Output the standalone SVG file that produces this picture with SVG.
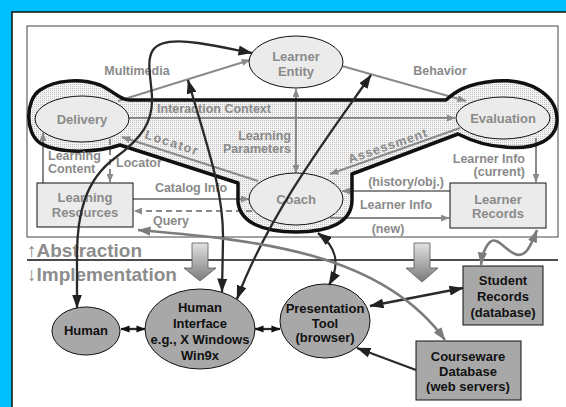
<svg xmlns="http://www.w3.org/2000/svg" width="566" height="407" viewBox="0 0 566 407">
<defs>
<pattern id="stip" width="2" height="2" patternUnits="userSpaceOnUse">
<rect width="2" height="2" fill="#f4f4f4"/><rect width="1" height="1" fill="#c0c0c0"/>
</pattern>
<linearGradient id="blk" x1="0" y1="0" x2="0" y2="1">
<stop offset="0" stop-color="#e2e2e2"/><stop offset="1" stop-color="#7a7a7a"/>
</linearGradient>
<marker id="g" viewBox="0 0 10 8" refX="9.5" refY="4" markerWidth="9" markerHeight="7" orient="auto-start-reverse" markerUnits="userSpaceOnUse"><path d="M0,0L10,4L0,8z" fill="#8a8a8a"/></marker>
<marker id="gl" viewBox="0 0 14 10" refX="13.5" refY="5" markerWidth="13" markerHeight="10" orient="auto-start-reverse" markerUnits="userSpaceOnUse"><path d="M0,0L14,5L0,10z" fill="#7c7c7c"/></marker>
<marker id="b" viewBox="0 0 14 10" refX="13.5" refY="5" markerWidth="14" markerHeight="10" orient="auto-start-reverse" markerUnits="userSpaceOnUse"><path d="M0,0L14,5L0,10z" fill="#222"/></marker>
<marker id="bs" viewBox="0 0 10 8" refX="9.5" refY="4" markerWidth="9" markerHeight="8" orient="auto-start-reverse" markerUnits="userSpaceOnUse"><path d="M0,0L10,4L0,8z" fill="#111"/></marker>
</defs>
<style>
.lbl{font-family:"Liberation Sans",Arial,sans-serif;font-weight:bold;font-size:12.5px;fill:#8a8a8a}
.nl{font-family:"Liberation Sans",Arial,sans-serif;font-weight:bold;font-size:13px;fill:#8a8a8a;text-anchor:middle}
.bl{font-family:"Liberation Sans",Arial,sans-serif;font-weight:bold;font-size:13px;fill:#111;text-anchor:middle}
.big{font-family:"Liberation Sans",Arial,sans-serif;font-weight:bold;font-size:19px;fill:#8c8c8c}
.tn{fill:#ebebeb;stroke:#111;stroke-width:1}
.bn{fill:#a8a8a8;stroke:#111;stroke-width:1}
.gc{fill:none;stroke:#8a8a8a;stroke-width:2}
.gd{fill:none;stroke:#8a8a8a;stroke-width:2;stroke-dasharray:6,4}
.bc{fill:none;stroke:#2a2a2a;stroke-width:2.3}
.gcl{fill:none;stroke:#7c7c7c;stroke-width:2.6}
.ba{fill:url(#blk);stroke:#555;stroke-width:0.8}
</style>
<rect x="0" y="0" width="566" height="407" fill="#00BFFF"/>
<rect x="12" y="12" width="570" height="410" fill="#fff" stroke="#111" stroke-width="1.5"/>
<rect x="27" y="26" width="531" height="211" fill="#fff" stroke="#444" stroke-width="1"/>

<g id="system-boundary">
<path d="M130,100 L446,100 C455,92 465,84 495,81 C530,78 556,95 557,118 C558,140 535,150 505,147 C485,146 470,140 458,134 L352,174 L352,200 C352,222 330,232 296,232 C262,232 240,222 238,202 L238,183 L120,145 C100,152 60,155 40,143 C25,133 25,100 40,90 C55,80 80,78 100,85 C115,92 120,100 130,100 Z" fill="url(#stip)" stroke="none"/>
</g>

<line x1="27" y1="260" x2="558" y2="260" stroke="#111" stroke-width="1.5"/>
<text class="big" x="27" y="257">↑Abstraction</text>
<text class="big" x="27" y="281">↓Implementation</text>

<g id="connectors">
<path class="gc" d="M118,101 L250,60" marker-end="url(#g)"/>
<path class="gc" d="M342,66 L466,101" marker-end="url(#g)"/>
<path class="gc" d="M129,118 L455,118" marker-end="url(#g)"/>
<path class="gc" d="M296,173 L296,89" marker-start="url(#g)" marker-end="url(#g)"/>
<path class="gc" d="M258,181 L122,137" marker-end="url(#g)"/>
<path class="gc" d="M460,128 L330,174" marker-end="url(#g)"/>
<path class="gc" d="M43,183 L43,133" marker-end="url(#g)"/>
<path class="gd" d="M110,139 L110,182" marker-end="url(#g)"/>
<path class="gc" d="M133,199 L249,199" marker-end="url(#g)"/>
<path class="gd" d="M252,211 L134,211" marker-end="url(#g)"/>
<path class="gc" d="M450,191 L342,191" marker-end="url(#g)"/>
<path class="gc" d="M330,218 L449,218" marker-end="url(#g)"/>
<path class="gc" d="M536,138 L536,182" marker-end="url(#g)"/>
</g>

<g id="boundary-outline">
<path d="M130,100 L446,100 C455,92 465,84 495,81 C530,78 556,95 557,118 C558,140 535,150 505,147 C485,146 470,140 458,134 L352,174 L352,200 C352,222 330,232 296,232 C262,232 240,222 238,202 L238,183 L120,145 C100,152 60,155 40,143 C25,133 25,100 40,90 C55,80 80,78 100,85 C115,92 120,100 130,100 Z" fill="none" stroke="#111" stroke-width="3.5" stroke-linejoin="round"/>
</g>

<g id="learner-entity"><ellipse class="tn" cx="296" cy="62" rx="47" ry="26"/><text class="nl" x="296" y="61">Learner</text><text class="nl" x="296" y="76">Entity</text></g>
<g id="delivery"><ellipse class="tn" cx="82" cy="119" rx="47" ry="23"/><text class="nl" x="82" y="124">Delivery</text></g>
<g id="evaluation"><ellipse class="tn" cx="503" cy="118" rx="47" ry="21"/><text class="nl" x="503" y="123">Evaluation</text></g>
<g id="coach"><ellipse class="tn" cx="296" cy="199" rx="47" ry="26"/><text class="nl" x="296" y="204">Coach</text></g>
<g id="learning-resources"><rect class="tn" x="37" y="183" width="96" height="44"/><text class="nl" x="85" y="202">Learning</text><text class="nl" x="85" y="217">Resources</text></g>
<g id="learner-records"><rect class="tn" x="450" y="183" width="96" height="45"/><text class="nl" x="498" y="204">Learner</text><text class="nl" x="498" y="218">Records</text></g>

<g id="labels">
<text class="lbl" x="137" y="74.5" text-anchor="middle">Multimedia</text>
<text class="lbl" x="440" y="74.5" text-anchor="middle">Behavior</text>
<text class="lbl" x="214" y="112.5" text-anchor="middle">Interaction Context</text>
<text class="lbl" x="291" y="140" text-anchor="end">Learning</text>
<text class="lbl" x="291" y="152.5" text-anchor="end">Parameters</text>
<text class="lbl" x="172" y="147" text-anchor="middle" letter-spacing="1.5" transform="rotate(18 172 143)">Locator</text>
<text class="lbl" x="388" y="150" text-anchor="middle" letter-spacing="1" transform="rotate(-19 388 146)">Assessment</text>
<text class="lbl" x="48" y="159.5">Learning</text>
<text class="lbl" x="48" y="172.5">Content</text>
<text class="lbl" x="116" y="166.5">Locator</text>
<text class="lbl" x="191" y="191.5" text-anchor="middle">Catalog Info</text>
<text class="lbl" x="171" y="224.5" text-anchor="middle">Query</text>
<text class="lbl" x="406" y="186" text-anchor="middle">(history/obj.)</text>
<text class="lbl" x="396" y="208.5" text-anchor="middle">Learner Info</text>
<text class="lbl" x="388" y="232.5" text-anchor="middle">(new)</text>
<text class="lbl" x="525" y="163" text-anchor="end">Learner Info</text>
<text class="lbl" x="525" y="175.5" text-anchor="end">(current)</text>
</g>

<g id="block-arrows">
<polygon class="ba" points="192,243 208,243 208,268 216,268 200,281 184,268 192,268"/>
<polygon class="ba" points="414,243 430,243 430,268 438,268 422,282 406,268 414,268"/>
</g>

<g id="human"><ellipse class="bn" cx="86" cy="331" rx="34" ry="24"/><text class="bl" x="86" y="335">Human</text></g>
<g id="human-interface"><ellipse class="bn" cx="200" cy="329" rx="55" ry="40"/><text class="bl" x="200" y="311.5">Human</text><text class="bl" x="200" y="327.5">Interface</text><text class="bl" x="200" y="344" font-size="12.5">e.g., X Windows</text><text class="bl" x="200" y="359.5">Win9x</text></g>
<g id="presentation-tool"><ellipse class="bn" cx="325" cy="321" rx="45" ry="37"/><text class="bl" x="325" y="313">Presentation</text><text class="bl" x="325" y="327.5">Tool</text><text class="bl" x="325" y="342">(browser)</text></g>
<g id="student-records"><rect class="bn" x="463" y="266" width="80" height="59" fill="#a0a0a0"/><text class="bl" x="503" y="284.5">Student</text><text class="bl" x="503" y="301">Records</text><text class="bl" x="503" y="316.5">(database)</text></g>
<g id="courseware-database"><rect class="bn" x="416" y="341" width="105" height="59" fill="#a0a0a0"/><text class="bl" x="468" y="361">Courseware</text><text class="bl" x="468" y="376">Database</text><text class="bl" x="468" y="391">(web servers)</text></g>

<g id="implementation-connectors">
<path class="bc" d="M77,308 L77,255 C77,215 85,180 115,158 C142,138 153,122 152,97 C151,78 146,60 153,50 C160,40 178,40 198,43 C218,46 236,50 252,53" marker-start="url(#b)" marker-end="url(#b)"/>
<path class="bc" d="M188,80 C205,140 224,190 223,240 L222,292" marker-start="url(#b)" marker-end="url(#b)"/>
<path class="bc" d="M371,75 C340,120 270,210 237,299" marker-start="url(#b)" marker-end="url(#b)"/>
<path class="bc" d="M318,233 C338,248 340,265 329,285" marker-start="url(#b)" marker-end="url(#b)"/>
<path class="bc" d="M121,329 L145,329" marker-start="url(#bs)" marker-end="url(#bs)"/>
<path class="bc" d="M255,329 L280,329" marker-start="url(#bs)" marker-end="url(#bs)"/>
<path class="bc" d="M370,306 L463,288" marker-start="url(#b)" marker-end="url(#b)"/>
<path class="bc" d="M416,370 L357,348" marker-end="url(#b)"/>
<path class="gcl" d="M537,230 C530,248 525,258 515,254 C505,250 497,236 490,242 C484,248 482,256 481,265" marker-start="url(#gl)" marker-end="url(#gl)"/>
<path class="gcl" d="M138,230 C250,240 380,250 445,340" marker-start="url(#gl)" marker-end="url(#gl)"/>
</g>
</svg>
